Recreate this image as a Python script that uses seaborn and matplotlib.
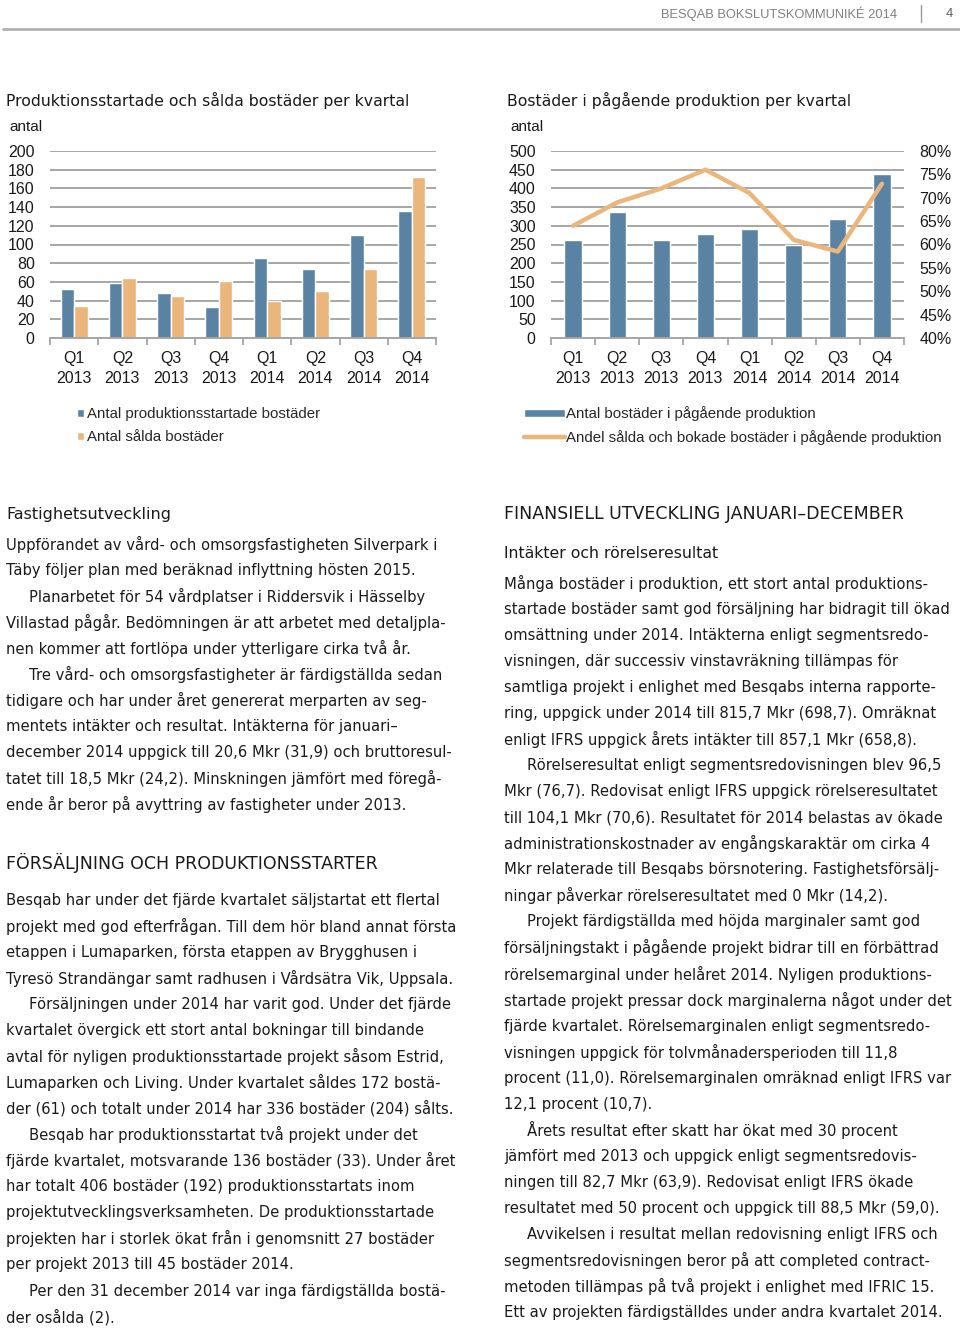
import numpy as np
import pandas as pd
import matplotlib
matplotlib.use("Agg")
import matplotlib.pyplot as plt
import seaborn as sns

# ---------------- data ----------------
quarters = ["Q1", "Q2", "Q3", "Q4", "Q1", "Q2", "Q3", "Q4"]
years = ["2013", "2013", "2013", "2013", "2014", "2014", "2014", "2014"]
started = [52, 59, 48, 33, 86, 74, 110, 136]          # Antal produktionsstartade bostäder
sold = [34, 64, 45, 61, 40, 50, 74, 172]              # Antal sålda bostäder
in_production = [262, 337, 261, 278, 292, 249, 319, 438]
share_sold_pct = [64, 69, 72, 76, 71, 61, 58.5, 73]
left_yticks = [0, 20, 40, 60, 80, 100, 120, 140, 160, 180, 200]
right_yticks = [0, 50, 100, 150, 200, 250, 300, 350, 400, 450, 500]
pct_ticks = [40, 45, 50, 55, 60, 65, 70, 75, 80]

lbl_started = "Antal produktionsstartade bostäder"
lbl_sold = "Antal sålda bostäder"
lbl_inprod = "Antal bostäder i pågående produktion"
lbl_share = "Andel sålda och bokade bostäder i pågående produktion"

title_left = "Produktionsstartade och sålda bostäder per kvartal"
title_right = "Bostäder i pågående produktion per kvartal"

left_col = [
    ("Uppförandet av vård- och omsorgsfastigheten Silverpark i", False),
    ("Täby följer plan med beräknad inflyttning hösten 2015.", False),
    ("Planarbetet för 54 vårdplatser i Riddersvik i Hässelby", True),
    ("Villastad pågår. Bedömningen är att arbetet med detaljpla-", False),
    ("nen kommer att fortlöpa under ytterligare cirka två år.", False),
    ("Tre vård- och omsorgsfastigheter är färdigställda sedan", True),
    ("tidigare och har under året genererat merparten av seg-", False),
    ("mentets intäkter och resultat. Intäkterna för januari–", False),
    ("december 2014 uppgick till 20,6 Mkr (31,9) och bruttoresul-", False),
    ("tatet till 18,5 Mkr (24,2). Minskningen jämfört med föregå-", False),
    ("ende år beror på avyttring av fastigheter under 2013.", False),
]
left_col2 = [
    ("Besqab har under det fjärde kvartalet säljstartat ett flertal", False),
    ("projekt med god efterfrågan. Till dem hör bland annat första", False),
    ("etappen i Lumaparken, första etappen av Brygghusen i", False),
    ("Tyresö Strandängar samt radhusen i Vårdsätra Vik, Uppsala.", False),
    ("Försäljningen under 2014 har varit god. Under det fjärde", True),
    ("kvartalet övergick ett stort antal bokningar till bindande", False),
    ("avtal för nyligen produktionsstartade projekt såsom Estrid,", False),
    ("Lumaparken och Living. Under kvartalet såldes 172 bostä-", False),
    ("der (61) och totalt under 2014 har 336 bostäder (204) sålts.", False),
    ("Besqab har produktionsstartat två projekt under det", True),
    ("fjärde kvartalet, motsvarande 136 bostäder (33). Under året", False),
    ("har totalt 406 bostäder (192) produktionsstartats inom", False),
    ("projektutvecklingsverksamheten. De produktionsstartade", False),
    ("projekten har i storlek ökat från i genomsnitt 27 bostäder", False),
    ("per projekt 2013 till 45 bostäder 2014.", False),
    ("Per den 31 december 2014 var inga färdigställda bostä-", True),
    ("der osålda (2).", False),
]
right_col = [
    ("Många bostäder i produktion, ett stort antal produktions-", False),
    ("startade bostäder samt god försäljning har bidragit till ökad", False),
    ("omsättning under 2014. Intäkterna enligt segmentsredo-", False),
    ("visningen, där successiv vinstavräkning tillämpas för", False),
    ("samtliga projekt i enlighet med Besqabs interna rapporte-", False),
    ("ring, uppgick under 2014 till 815,7 Mkr (698,7). Omräknat", False),
    ("enligt IFRS uppgick årets intäkter till 857,1 Mkr (658,8).", False),
    ("Rörelseresultat enligt segmentsredovisningen blev 96,5", True),
    ("Mkr (76,7). Redovisat enligt IFRS uppgick rörelseresultatet", False),
    ("till 104,1 Mkr (70,6). Resultatet för 2014 belastas av ökade", False),
    ("administrationskostnader av engångskaraktär om cirka 4", False),
    ("Mkr relaterade till Besqabs börsnotering. Fastighetsförsälj-", False),
    ("ningar påverkar rörelseresultatet med 0 Mkr (14,2).", False),
    ("Projekt färdigställda med höjda marginaler samt god", True),
    ("försäljningstakt i pågående projekt bidrar till en förbättrad", False),
    ("rörelsemarginal under helåret 2014. Nyligen produktions-", False),
    ("startade projekt pressar dock marginalerna något under det", False),
    ("fjärde kvartalet. Rörelsemarginalen enligt segmentsredo-", False),
    ("visningen uppgick för tolvmånadersperioden till 11,8", False),
    ("procent (11,0). Rörelsemarginalen omräknad enligt IFRS var", False),
    ("12,1 procent (10,7).", False),
    ("Årets resultat efter skatt har ökat med 30 procent", True),
    ("jämfört med 2013 och uppgick enligt segmentsredovis-", False),
    ("ningen till 82,7 Mkr (63,9). Redovisat enligt IFRS ökade", False),
    ("resultatet med 50 procent och uppgick till 88,5 Mkr (59,0).", False),
    ("Avvikelsen i resultat mellan redovisning enligt IFRS och", True),
    ("segmentsredovisningen beror på att completed contract-", False),
    ("metoden tillämpas på två projekt i enlighet med IFRIC 15.", False),
    ("Ett av projekten färdigställdes under andra kvartalet 2014.", False),
]

# ---------------- style ----------------
sns.set_theme(style="white")
plt.rcParams["font.family"] = ["Liberation Sans", "DejaVu Sans"]
WIDE = ["DejaVu Sans"]          # wider face to mimic the tracked body type
BLUE = "#5A83A3"
ORANGE = "#EBB67C"
GRID = "#A6A6A6"
TXT = "#1a1a1a"

W, H = 960, 1330
fig = plt.figure(figsize=(W / 100, H / 100), dpi=100)
fig.patch.set_facecolor("white")


def put(x, y, s, size=11, **kw):
    kw.setdefault("ha", "left")
    fig.text(x / W, 1 - y / H, s, fontsize=size, va="center", color=kw.pop("color", TXT), **kw)


def axes_px(x0, x1, y0, y1):
    return fig.add_axes([x0 / W, 1 - y1 / H, (x1 - x0) / W, (y1 - y0) / H])


labels = [f"{q}\n{y}" for q, y in zip(quarters, years)]
n = len(labels)
TICK = 11.5


def style_axis(ax, ylim, yticks):
    ax.set_ylim(*ylim)
    ax.set_yticks(yticks)
    ax.set_xlim(-0.5, n - 0.5)
    ax.yaxis.grid(True, color=GRID, lw=1.4)
    ax.xaxis.grid(False)
    ax.set_axisbelow(True)
    for s in ["left", "right", "top"]:
        ax.spines[s].set_visible(False)
    ax.spines["bottom"].set_color(GRID)
    ax.spines["bottom"].set_linewidth(1.4)
    ax.set_xticks(np.arange(n + 1) - 0.5, minor=True)
    ax.tick_params(axis="x", which="minor", length=5, width=1.3, color=GRID, bottom=True)
    ax.tick_params(axis="x", which="major", length=0, pad=9, labelsize=TICK, labelcolor=TXT)
    ax.tick_params(axis="y", length=0, pad=11, labelsize=TICK, labelcolor=TXT)
    ax.set_xticks(range(n))
    ax.set_xticklabels(labels, linespacing=1.45)
    ax.set_xlabel("")
    ax.set_ylabel("")


# ---------------- header ----------------
put(897, 14, "BESQAB BOKSLUTSKOMMUNIKÉ 2014", size=9.3, ha="right", color="#808080")
fig.add_artist(plt.Line2D([921 / W, 921 / W], [1 - 5 / H, 1 - 22 / H], color="#9a9a9a", lw=1))
put(946, 14, "4", size=9.3, color="#606060")
fig.add_artist(plt.Line2D([3 / W, 1], [1 - 29 / H, 1 - 29 / H], color="#b0b0b0", lw=2))

# ---------------- left chart ----------------
df_left = pd.DataFrame({
    "kvartal": labels * 2,
    "antal": started + sold,
    "serie": [lbl_started] * n + [lbl_sold] * n,
})
axL = axes_px(50, 436, 151, 338)
sns.barplot(data=df_left, x="kvartal", y="antal", hue="serie",
            palette=[BLUE, ORANGE], width=0.56, gap=0, saturation=1,
            ax=axL)
style_axis(axL, (0, 200), left_yticks)
legL = axL.get_legend()
hL = legL.legend_handles
tL = [t.get_text() for t in legL.get_texts()]
axL.legend(hL, tL, loc="upper left", bbox_to_anchor=(77 / W, 1 - 407 / H),
           bbox_transform=fig.transFigure, frameon=False, fontsize=10.8,
           handlelength=0.47, handleheight=0.47, handletextpad=0.22,
           labelspacing=0.6, borderpad=0, borderaxespad=0)

put(6, 100, title_left, size=11.35, family=WIDE)
put(9, 127, "antal", size=11)

# ---------------- right chart ----------------
df_right = pd.DataFrame({"kvartal": labels, "antal": in_production})
axR = axes_px(551, 904, 151, 338)
sns.barplot(data=df_right, x="kvartal", y="antal", color=BLUE, width=0.39,
            saturation=1, ax=axR, label=lbl_inprod)
style_axis(axR, (0, 500), right_yticks)
if axR.get_legend() is not None:
    axR.get_legend().remove()

axR2 = axR.twinx()
df_share = pd.DataFrame({"pos": np.arange(n), "andel": share_sold_pct})
sns.lineplot(data=df_share, x="pos", y="andel", color=ORANGE, lw=3.2,
             ax=axR2, sort=False, label=lbl_share)
axR2.set_ylim(40, 80)
axR2.set_yticks(pct_ticks)
axR2.set_yticklabels([f"{v}%" for v in pct_ticks])
axR2.tick_params(axis="y", length=0, pad=11, labelsize=TICK, labelcolor=TXT)
for s in axR2.spines.values():
    s.set_visible(False)
axR2.set_ylabel("")
axR2.set_xlabel("")
axR2.grid(False)
axR.set_xlim(-0.5, n - 0.5)
if axR2.get_legend() is not None:
    axR2.get_legend().remove()

h1, l1 = axR.get_legend_handles_labels()
h2, l2 = axR2.get_legend_handles_labels()
axR2.legend(h1 + h2, l1 + l2, loc="upper left", bbox_to_anchor=(524 / W, 1 - 406 / H),
            bbox_transform=fig.transFigure, frameon=False, fontsize=10.8,
            handlelength=2.75, handleheight=0.47, handletextpad=0.08,
            labelspacing=0.6, borderpad=0, borderaxespad=0)

put(507, 100, title_right, size=11.3, family=WIDE)
put(510, 127, "antal", size=11)

# ---------------- body text ----------------
STEP = 26.07
BODY = 10.65


def block(x, y0, lines):
    for i, (s, ind) in enumerate(lines):
        put(x + (23 if ind else 0), y0 + i * STEP, s, size=BODY, family=WIDE)


put(6, 514, "Fastighetsutveckling", size=11.5, family=WIDE)
block(6, 544, left_col)
put(6, 863, "FÖRSÄLJNING OCH PRODUKTIONSSTARTER", size=12.5, family=WIDE)
block(6, 900, left_col2)

put(504, 514, "FINANSIELL UTVECKLING JANUARI–DECEMBER", size=12.5, family=WIDE)
put(504, 553, "Intäkter och rörelseresultat", size=11.3, family=WIDE)
block(504, 583, right_col)

fig.savefig("out.png", dpi=100, facecolor="white")
